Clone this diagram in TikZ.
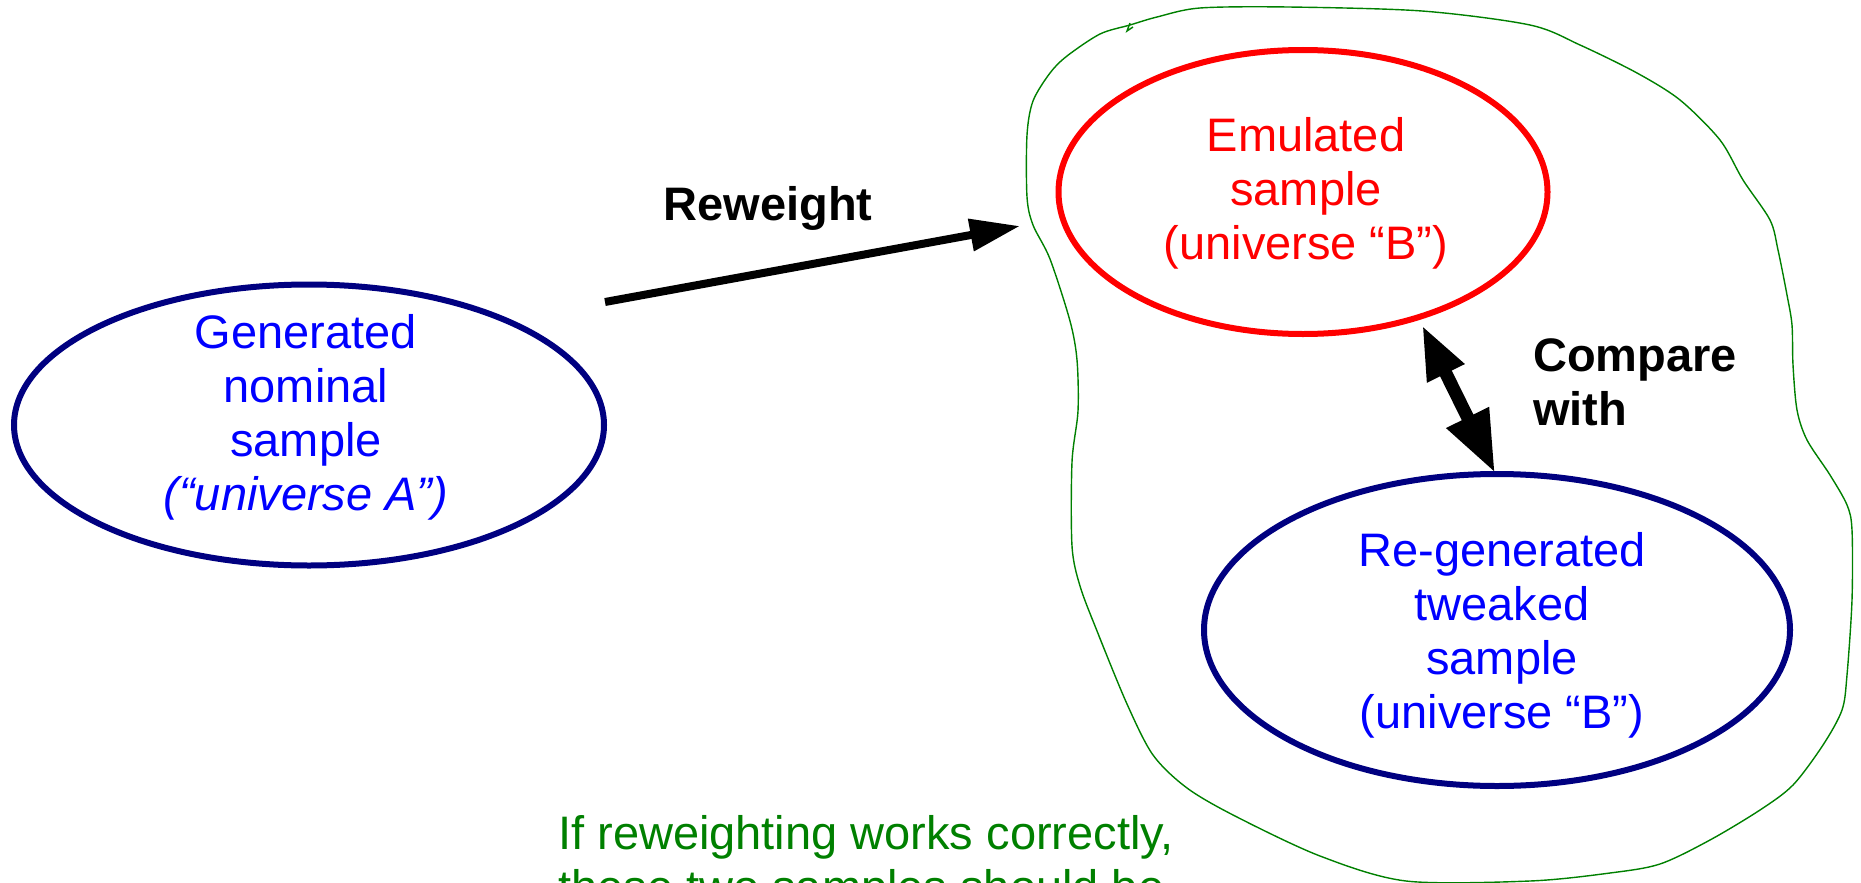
\documentclass[tikz,border=0pt]{standalone}
\usepackage{fontspec}
\setmainfont{Liberation Sans}
\usetikzlibrary{shapes.geometric,arrows.meta}
\definecolor{navyline}{RGB}{0,0,128}
\definecolor{puretxtblue}{RGB}{0,0,255}
\definecolor{pureredc}{RGB}{255,0,0}
\definecolor{notegreen}{RGB}{0,128,0}
\tikzset{
  bigfont/.style={font=\fontsize{47}{54}\selectfont},
  ellbase/.style={ellipse, line width=6pt, inner sep=0pt},
  navyell/.style={ellbase, draw=navyline},
  redell/.style={ellbase, draw=pureredc},
  elltext/.style={bigfont, inner sep=0pt, align=center, anchor=base},
  bluetxt/.style={elltext, text=puretxtblue},
  redtxt/.style={elltext, text=pureredc},
  boldlbl/.style={font=\fontsize{47}{54}\selectfont\bfseries, text=black, inner sep=0pt},
  notelbl/.style={bigfont, text=notegreen, inner sep=0pt, align=left},
  blobline/.style={draw=notegreen, line width=1.4pt},
  rwarrow/.style={line width=8pt, -{Triangle[length=50pt,width=31pt]}},
  cmparrow/.style={line width=13pt, {Triangle[length=54pt,width=38pt]}-{Triangle[length=62pt,width=44pt]}},
}
\begin{document}
\begin{tikzpicture}[x=1pt,y=-1pt]
\useasboundingbox (0,0) rectangle (1861,883);
% green blob
\draw[blobline] plot[smooth cycle, tension=0.5] coordinates {
 (1130,25) (1100,34) (1067,56) (1050,73) (1033,101) (1027,135) (1027,197)
 (1033,225) (1050,259) (1070,321) (1077,360) (1078,411) (1072,462) (1072,546)
 (1080,586) (1097,631) (1127,704) (1153,755) (1187,788) (1235,816) (1320,856)
 (1406,881) (1530,881) (1610,873) (1660,864) (1710,840) (1760,810) (1793,785)
 (1823,745) (1842,710) (1847,675) (1852,600) (1852,530) (1847,505) (1830,475)
 (1807,440) (1797,410) (1793,365) (1792,325) (1787,295) (1778,250) (1770,220)
 (1743,180) (1720,140) (1680,100) (1637,73) (1580,45) (1530,25) (1422,11)
 (1288,7) (1200,8) (1157,17)};
\draw[blobline] (1130,23) -- (1127,31) -- (1133,27);
% ellipses
\node[navyell, minimum width=590pt, minimum height=281pt] (gen) at (309,425) {};
\node[redell, minimum width=489pt, minimum height=284pt] (emu) at (1303,192) {};
\node[navyell, minimum width=586pt, minimum height=312pt] (regen) at (1497,630) {};
% ellipse texts (anchor base = last line baseline)
\node[bluetxt] (gentxt) at (306,510)
  {Generated\\nominal\\sample\\\textit{(“universe A”)}};
\node[redtxt] (emutxt) at (1306,259)
  {Emulated\\sample\\(universe “B”)};
\node[bluetxt] (regentxt) at (1502,728)
  {Re-generated\\tweaked\\sample\\(universe “B”)};
% reweight arrow
\coordinate (rwstart) at (605,302);
\coordinate (rwend) at (1020,226);
\draw[rwarrow] (rwstart) -- (rwend);
\node[boldlbl, anchor=base] (rwlbl) at (768,220) {Reweight};
% compare arrow
\coordinate (cmptop) at (1422,325);
\coordinate (cmpbot) at (1495,473);
\draw[cmparrow] (cmptop) -- (cmpbot);
\node[boldlbl, anchor=base west, align=left] (cmplbl) at (1533,425) {Compare\\with};
% note
\node[notelbl, anchor=base west] (note) at (558,903)
  {If reweighting works correctly,\\these two samples should be};
\end{tikzpicture}
\end{document}
